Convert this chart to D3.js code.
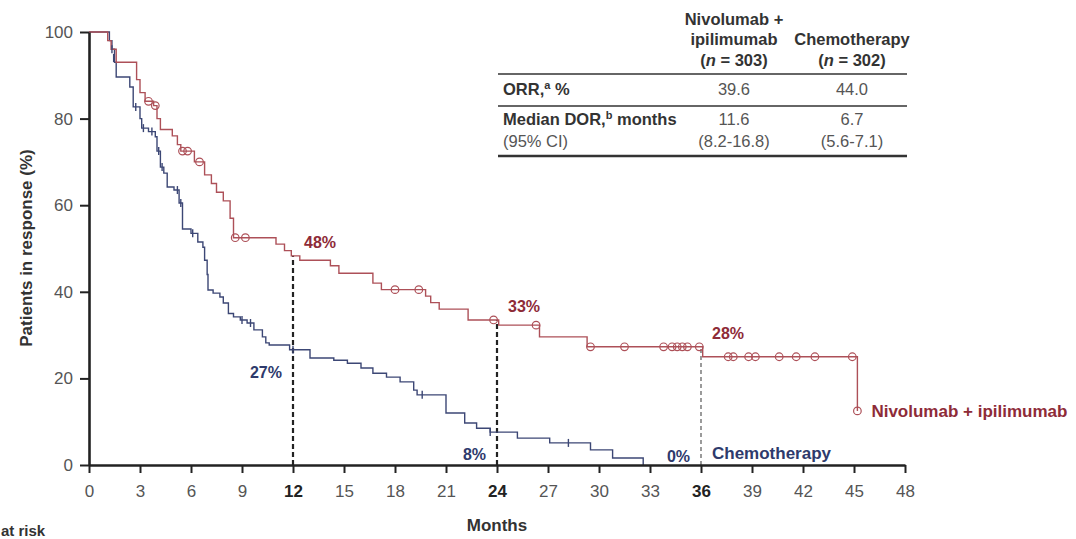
<!DOCTYPE html>
<meta charset="utf-8">
<script src="https://d3js.org/d3.v7.min.js"></script>
<style>
  body { margin: 0; background: #fff; }
  text { font-family: "Liberation Sans", Arial, sans-serif; }
</style>
<div id="chart"></div>
<script>
// Kaplan-Meier steps: [month, % still in response]
const nivoSteps = [
  [0, 100], [1.1, 98], [1.3, 96], [1.6, 93], [2.8, 89], [3.0, 86], [3.3, 84],
  [3.8, 83], [4.0, 80], [4.2, 77.5], [4.9, 76], [5.2, 74], [5.4, 72.5], [6.2, 70],
  [6.8, 67], [7.2, 65], [7.5, 63], [7.9, 61], [8.3, 57], [8.5, 52.5], [11.0, 51],
  [11.5, 49.5], [11.9, 48.3], [12.4, 47.3], [14.2, 46], [14.7, 44.3], [16.7, 42],
  [17.2, 40.5], [19.8, 39], [20.1, 37.5], [20.6, 36], [22.3, 33.5], [24.1, 32.3],
  [26.5, 29.6], [29.3, 27.3], [36.1, 25], [45.2, 12.5]
];
const chemoSteps = [
  [0, 100], [1.2, 98], [1.35, 96], [1.5, 93], [1.6, 89.6], [2.4, 87.3], [2.6, 82.7],
  [3.0, 80], [3.1, 77.8], [3.5, 77], [3.9, 75.8], [4.0, 72.5], [4.2, 68.8], [4.4, 67.4],
  [4.6, 64.2], [5.0, 63.5], [5.3, 60.5], [5.5, 54.5], [6.0, 53.5], [6.4, 51.5],
  [6.7, 50.3], [6.8, 47.3], [6.95, 44], [7.0, 40.4], [7.3, 39.7], [7.7, 38.8],
  [7.9, 37.4], [8.2, 35], [8.5, 34.2], [8.9, 33.5], [9.3, 32.8], [9.7, 31.2],
  [10.2, 29.6], [10.4, 28.2], [10.6, 27.7], [11.8, 26.6], [13.0, 24.7], [14.4, 24.2],
  [15.2, 23.5], [16.0, 22.4], [16.7, 21.2], [17.5, 20.3], [18.3, 19.2], [19.1, 17.3],
  [19.3, 16.2], [21.0, 12], [22.1, 9.7], [22.8, 8.5], [23.6, 7.6], [25.2, 6.2],
  [27.1, 5.1], [29.5, 3.5], [30.8, 1.6], [32.6, 0]
];
const nivoCensored = [
  [3.5, 84], [3.9, 83], [5.5, 72.5], [5.8, 72.5], [6.5, 70], [8.6, 52.5], [9.2, 52.5],
  [18.0, 40.5], [19.4, 40.5], [23.8, 33.5], [26.3, 32.3], [29.5, 27.3], [31.5, 27.3],
  [33.8, 27.3], [34.3, 27.3], [34.6, 27.3], [34.9, 27.3], [35.2, 27.3], [35.9, 27.3],
  [37.6, 25], [37.9, 25], [38.8, 25], [39.2, 25], [40.6, 25], [41.6, 25], [42.7, 25],
  [44.9, 25], [45.2, 12.5]
];
const chemoCensored = [
  [1.35, 96], [1.45, 94], [2.75, 82.7], [3.2, 77.8], [3.7, 77], [4.1, 72.5], [4.3, 68.8],
  [5.2, 63.5], [5.4, 60.5], [6.1, 53.5], [9.0, 33.5], [9.5, 32.8], [12.0, 26.6],
  [19.6, 16.2], [23.6, 7.6], [28.2, 5.1]
];

const landmarkMonths = [12, 24, 36];
const nivoLandmarkLabels = ["48%", "33%", "28%"];
const chemoLandmarkLabels = ["27%", "8%", "0%"];

const xTicks = [0, 3, 6, 9, 12, 15, 18, 21, 24, 27, 30, 33, 36, 39, 42, 45, 48];
const yTicks = [0, 20, 40, 60, 80, 100];

// summary table
const tableHeads = [["Nivolumab +", "ipilimumab", "303"], ["", "Chemotherapy", "302"]];
const orrValues = ["39.6", "44.0"];
const dorValues = ["11.6", "6.7"];
const dorCI = ["(8.2-16.8)", "(5.6-7.1)"];

const red = "#ad5058", redText = "#8e2b38";
const blue = "#3c4775", blueText = "#2e3a6c";

const width = 1076, height = 539;

const svg = d3.select("#chart").append("svg")
  .attr("width", width)
  .attr("height", height);

const x = d3.scaleLinear().domain([0, 48]).range([89, 905]);
const y = d3.scaleLinear().domain([0, 100]).range([465, 32]);

function valueAt(steps, m) {
  let v = steps[0][1];
  steps.forEach(s => { if (s[0] <= m) v = s[1]; });
  return v;
}

// dashed landmark lines
svg.selectAll(".landmark")
  .data(landmarkMonths)
  .join("line")
  .attr("x1", d => x(d)).attr("x2", d => x(d))
  .attr("y1", y(0)).attr("y2", d => y(valueAt(nivoSteps, d)))
  .attr("stroke", (d, i) => i < 2 ? "#222" : "#666")
  .attr("stroke-width", (d, i) => i < 2 ? 2.2 : 1.3)
  .attr("stroke-dasharray", (d, i) => i < 2 ? "5,3" : "4,3");

// curves
const line = d3.line().x(d => x(d[0])).y(d => y(d[1])).curve(d3.curveStepAfter);

svg.append("path")
  .datum(chemoSteps)
  .attr("fill", "none")
  .attr("stroke", blue)
  .attr("stroke-width", 1.4)
  .attr("d", line);

svg.append("path")
  .datum(nivoSteps)
  .attr("fill", "none")
  .attr("stroke", red)
  .attr("stroke-width", 1.4)
  .attr("d", line);

svg.selectAll(".chemoCens")
  .data(chemoCensored)
  .join("line")
  .attr("x1", d => x(d[0])).attr("x2", d => x(d[0]))
  .attr("y1", d => y(d[1]) - 4).attr("y2", d => y(d[1]) + 4)
  .attr("stroke", blue)
  .attr("stroke-width", 1.4);

svg.selectAll(".nivoCens")
  .data(nivoCensored)
  .join("circle")
  .attr("cx", d => x(d[0]))
  .attr("cy", d => y(d[1]))
  .attr("r", 3.8)
  .attr("fill", "none")
  .attr("stroke", red)
  .attr("stroke-width", 1.2);

// axes
const xAxis = svg.append("g")
  .attr("transform", `translate(0, ${y(0)})`)
  .call(d3.axisBottom(x).tickValues(xTicks).tickSize(8).tickSizeOuter(0).tickPadding(12));

const yAxis = svg.append("g")
  .attr("transform", `translate(${x(0)}, 0)`)
  .call(d3.axisLeft(y).tickValues(yTicks).tickSize(9).tickSizeOuter(0).tickPadding(7));

[xAxis, yAxis].forEach(a => {
  a.select(".domain").attr("stroke", "#222").attr("stroke-width", 2.6);
  a.selectAll(".tick line").attr("stroke", "#222").attr("stroke-width", 2);
  a.selectAll(".tick text")
    .attr("fill", "#555")
    .style("font-size", "17px")
    .style("font-family", "'Liberation Sans', Arial, sans-serif");
});
xAxis.selectAll(".tick text")
  .filter(d => landmarkMonths.includes(d))
  .attr("fill", "#222")
  .style("font-weight", "bold");

// axis titles
svg.append("text")
  .attr("x", x(24)).attr("y", 531)
  .attr("text-anchor", "middle")
  .attr("fill", "#333")
  .style("font-size", "17px").style("font-weight", "bold")
  .text("Months");

svg.append("text")
  .attr("transform", `translate(32, ${248}) rotate(-90)`)
  .attr("text-anchor", "middle")
  .attr("fill", "#333")
  .style("font-size", "17px").style("font-weight", "bold")
  .text("Patients in response (%)");

// only the tail of the "No. at risk" heading shows in the crop
svg.append("text")
  .attr("x", 1).attr("y", 536)
  .attr("fill", "#333")
  .style("font-size", "15px").style("font-weight", "bold")
  .text("at risk");

// landmark labels
svg.selectAll(".nivoLab")
  .data(landmarkMonths)
  .join("text")
  .attr("x", d => x(d) + 11)
  .attr("y", d => y(valueAt(nivoSteps, d)) - 8)
  .attr("fill", redText)
  .style("font-size", "16px").style("font-weight", "bold")
  .text((d, i) => nivoLandmarkLabels[i]);

svg.selectAll(".chemoLab")
  .data(landmarkMonths)
  .join("text")
  .attr("x", d => x(d) - 11)
  .attr("y", d => Math.min(y(valueAt(chemoSteps, d)) + 28, y(0) - 3))
  .attr("text-anchor", "end")
  .attr("fill", blueText)
  .style("font-size", "16px").style("font-weight", "bold")
  .text((d, i) => chemoLandmarkLabels[i]);

// curve names
const nivoEnd = nivoSteps[nivoSteps.length - 1];
svg.append("text")
  .attr("x", x(nivoEnd[0]) + 14).attr("y", y(nivoEnd[1]) + 6)
  .attr("fill", redText)
  .style("font-size", "17px").style("font-weight", "bold")
  .text("Nivolumab + ipilimumab");

svg.append("text")
  .attr("x", x(36) + 11).attr("y", y(0) - 6)
  .attr("fill", blueText)
  .style("font-size", "17px").style("font-weight", "bold")
  .text("Chemotherapy");

// table
const tbl = svg.append("g");
const colX = [734, 852];
const tblLeft = 498, tblRight = 907;
const fs = "16.5px";

tableHeads.forEach((h, i) => {
  tbl.append("text").attr("x", colX[i]).attr("y", 25).attr("text-anchor", "middle")
    .attr("fill", "#333").style("font-size", fs).style("font-weight", "bold").text(h[0]);
  tbl.append("text").attr("x", colX[i]).attr("y", 45).attr("text-anchor", "middle")
    .attr("fill", "#333").style("font-size", fs).style("font-weight", "bold").text(h[1]);
  const t = tbl.append("text").attr("x", colX[i]).attr("y", 66).attr("text-anchor", "middle")
    .attr("fill", "#333").style("font-size", fs).style("font-weight", "bold");
  t.append("tspan").text("(");
  t.append("tspan").style("font-style", "italic").text("n");
  t.append("tspan").text(" = " + h[2] + ")");
});

[74, 106].forEach(yy => {
  tbl.append("line").attr("x1", tblLeft).attr("x2", tblRight).attr("y1", yy).attr("y2", yy)
    .attr("stroke", "#333").attr("stroke-width", 1.5);
});
tbl.append("line").attr("x1", tblLeft).attr("x2", tblRight).attr("y1", 156).attr("y2", 156)
  .attr("stroke", "#333").attr("stroke-width", 2.4);

const orr = tbl.append("text").attr("x", 503).attr("y", 95)
  .attr("fill", "#333").style("font-size", fs).style("font-weight", "bold");
orr.append("tspan").text("ORR,");
orr.append("tspan").attr("dy", -6).style("font-size", "11px").text("a");
orr.append("tspan").attr("dy", 6).text(" %");

const dor = tbl.append("text").attr("x", 503).attr("y", 125)
  .attr("fill", "#333").style("font-size", fs).style("font-weight", "bold");
dor.append("tspan").text("Median DOR,");
dor.append("tspan").attr("dy", -6).style("font-size", "11px").text("b");
dor.append("tspan").attr("dy", 6).text(" months");

tbl.append("text").attr("x", 503).attr("y", 147)
  .attr("fill", "#555").style("font-size", fs).text("(95% CI)");

colX.forEach((cx, i) => {
  tbl.append("text").attr("x", cx).attr("y", 95).attr("text-anchor", "middle")
    .attr("fill", "#555").style("font-size", fs).text(orrValues[i]);
  tbl.append("text").attr("x", cx).attr("y", 125).attr("text-anchor", "middle")
    .attr("fill", "#555").style("font-size", fs).text(dorValues[i]);
  tbl.append("text").attr("x", cx).attr("y", 147).attr("text-anchor", "middle")
    .attr("fill", "#555").style("font-size", fs).text(dorCI[i]);
});
</script>
